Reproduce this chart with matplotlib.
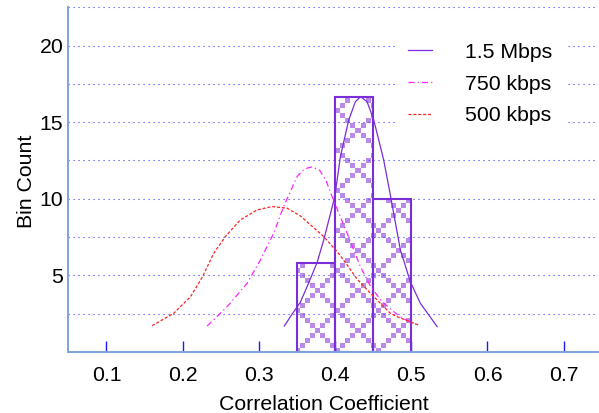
import numpy as np
import matplotlib
matplotlib.use("Agg")
import matplotlib.pyplot as plt
from matplotlib.path import Path
from matplotlib.lines import Line2D
from matplotlib.colors import to_rgba

plt.rcParams["font.family"] = ["Liberation Sans", "DejaVu Sans"]

# Histogram of correlation coefficients (1.5 Mbps)
bin_edges = [0.35, 0.40, 0.45, 0.50]
bin_counts = [5.83, 16.67, 10.0]

# Density curves per bitrate
mbps15_x = [0.3335, 0.3414, 0.3545, 0.3633, 0.3764, 0.3851, 0.3995, 0.4070,
            0.4180, 0.4267, 0.4336, 0.4420, 0.4507, 0.4573, 0.4638, 0.4713,
            0.4857, 0.4990, 0.5120, 0.5339]
mbps15_y = [1.69, 2.30, 3.25, 4.26, 5.83, 7.30, 10.10, 12.75,
            15.15, 16.34, 16.67, 16.34, 15.15, 13.84, 12.53, 10.58,
            6.66, 4.55, 3.17, 1.65]

kbps750_x = [0.2321, 0.2584, 0.2846, 0.3020, 0.3195, 0.3326, 0.3502, 0.3600,
             0.3699, 0.3800, 0.3880, 0.3980, 0.4158, 0.4332, 0.4464, 0.4595,
             0.4726, 0.4880, 0.5090]
kbps750_y = [1.69, 2.95, 4.48, 6.00, 7.75, 9.50, 11.45, 11.95,
             12.08, 11.85, 11.20, 9.90, 7.75, 5.57, 4.30, 3.40,
             2.80, 2.20, 1.76]

kbps500_x = [0.1600, 0.1883, 0.2102, 0.2255, 0.2408, 0.2561, 0.2758, 0.2977,
             0.3174, 0.3371, 0.3545, 0.3851, 0.4027, 0.4158, 0.4289, 0.4464,
             0.4552, 0.4726, 0.4814, 0.5090]
kbps500_y = [1.71, 2.52, 3.60, 4.85, 6.44, 7.53, 8.62, 9.27,
             9.49, 9.38, 8.88, 7.53, 6.55, 5.68, 4.75, 3.83,
             3.39, 2.52, 2.30, 1.76]

series_labels = ["1.5 Mbps", "750 kbps", "500 kbps"]
x_ticks = [0.1, 0.2, 0.3, 0.4, 0.5, 0.6, 0.7]
y_ticks = [5, 10, 15, 20]
y_grid = [2.5, 7.5, 12.5, 17.5, 22.5]

purple = "#7b2ed8"
hatch_color = "#b98ae8"
magenta = "#ff22ff"
red = "#ff2222"
grid_blue = "#3a3aff"
spine_blue = "#7ea3de"
tick_blue = "#1a1aff"
fs = 15.3

W, H = 599, 413
fig = plt.figure(figsize=(W / 100, H / 100), dpi=100)
ax = fig.add_axes([68.3 / W, (H - 351.9) / H, (598 - 68.3) / W, (351.9 - 7.3) / H])
ax.set_xlim(0.05, 0.745)
ax.set_ylim(0, 22.5)

# bars (outline only; the checker fill is a clipped image)
bars = ax.bar(bin_edges[:-1], bin_counts, width=np.diff(bin_edges), align="edge",
              facecolor="none", edgecolor=purple, linewidth=1.5, zorder=2)

cell = 5      # checker square size, px
N = 8         # diagonal repeat, in squares
phase_x, phase_y = 1, 0
x0d, y0d = ax.transData.transform((bin_edges[0], 0))
x1d, y1d = ax.transData.transform((bin_edges[-1], max(bin_counts)))
i0, i1 = int(np.floor(x0d / cell)), int(np.ceil(x1d / cell))
j0, j1 = int(np.floor(y0d / cell)), int(np.ceil(y1d / cell))
ii, jj = np.meshgrid(np.arange(i0, i1) + phase_x, np.arange(j0, j1) + phase_y)
mask = ((ii + jj) % N == 0) | ((ii - jj) % N == 0)
rgba = np.zeros(mask.shape + (4,))
rgba[mask] = to_rgba(hatch_color)
inv = ax.transData.inverted()
xa, ya = inv.transform((i0 * cell, j0 * cell))
xb, yb = inv.transform((i1 * cell, j1 * cell))
im = ax.imshow(rgba, extent=[xa, xb, ya, yb], origin="lower",
               interpolation="nearest", aspect="auto", zorder=1)
clip = Path.make_compound_path(*[p.get_path().transformed(p.get_patch_transform())
                                 for p in bars.patches])
im.set_clip_path(clip, ax.transData)

ls750 = (0, (4.8, 2.5, 1.0, 2.5))
ls500 = (0, (2.4, 1.5))
ax.plot(mbps15_x, mbps15_y, color=purple, lw=0.9, zorder=3)
ax.plot(kbps750_x, kbps750_y, color=magenta, lw=0.9, ls=ls750, zorder=3)
ax.plot(kbps500_x, kbps500_y, color=red, lw=0.9, ls=ls500, zorder=3)

ax.set_xlim(0.05, 0.745)
ax.set_ylim(0, 22.5)

for s in ("top", "right"):
    ax.spines[s].set_visible(False)
for s in ("left", "bottom"):
    ax.spines[s].set_color(spine_blue)
    ax.spines[s].set_linewidth(1.4)

ax.set_xticks(x_ticks)
ax.set_xticklabels([f"{t:g}" for t in x_ticks])
ax.set_yticks(y_ticks)
ax.set_yticklabels([str(t) for t in y_ticks])
ax.set_yticks(y_grid, minor=True)
ax.tick_params(axis="x", direction="in", length=7.9, width=1.0, color=tick_blue,
               labelsize=fs, pad=10.5)
ax.tick_params(axis="y", which="both", length=0, labelsize=fs, pad=3.6)
ax.set_axisbelow("line")
ax.grid(axis="y", which="both", color=grid_blue, linestyle=(0, (1, 3.5)), linewidth=0.8)

handles = [Line2D([], [], color=purple, lw=0.9),
           Line2D([], [], color=magenta, lw=0.9, ls=ls750),
           Line2D([], [], color=red, lw=0.9, ls=ls500)]
ax.legend(handles, series_labels, loc="upper left",
          bbox_to_anchor=(395 / W, (H - 30) / H), bbox_transform=fig.transFigure,
          fontsize=fs, frameon=True, facecolor="white", edgecolor="none",
          framealpha=1, fancybox=False, handlelength=1.16, handletextpad=1.53,
          labelspacing=0.6, borderpad=0.6, borderaxespad=0)

fig.text(323.5 / W, 1 - 410 / H, "Correlation Coefficient", ha="center",
         va="baseline", fontsize=fs)
fig.text(32 / W, 1 - 181.5 / H, "Bin Count", rotation=90, rotation_mode="anchor",
         ha="center", va="baseline", fontsize=fs)

fig.savefig("out.png", dpi=100)
